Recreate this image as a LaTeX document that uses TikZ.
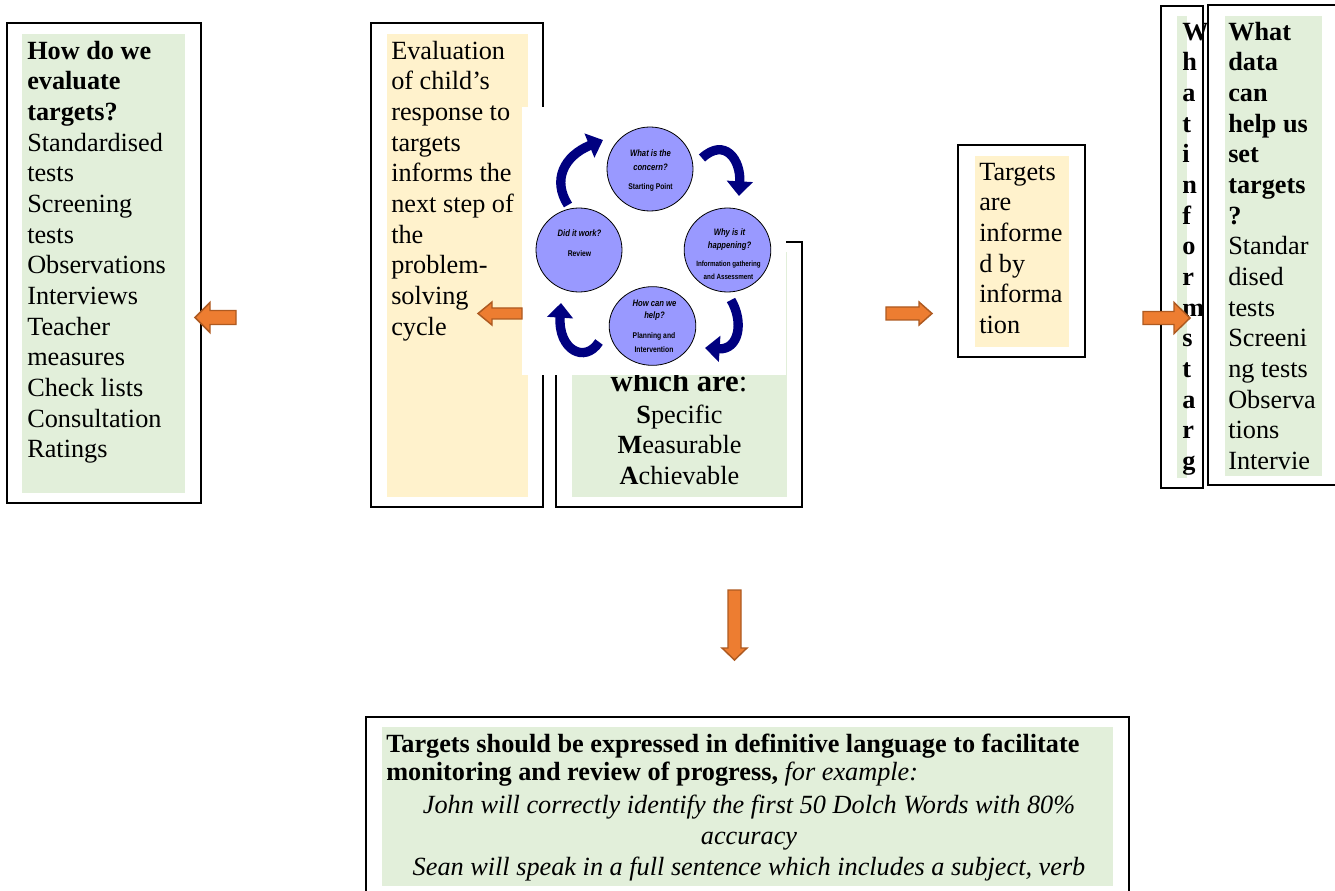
\documentclass[tikz,border=0pt]{standalone}
\usepackage{fontspec}
\setmainfont{Liberation Serif}
\newfontfamily\cycfont[FakeStretch=0.82]{Liberation Sans}
\usetikzlibrary{arrows.meta,shapes.geometric}
\definecolor{boxgreen}{HTML}{E2EFDA}
\definecolor{boxyellow}{HTML}{FFF2CC}
\definecolor{lav}{HTML}{9999FF}
\definecolor{navyc}{HTML}{000080}
\definecolor{orangef}{HTML}{ED7D31}
\definecolor{oranged}{HTML}{AE5A21}
\newcommand\st{\rule{0pt}{16pt}}
\begin{document}
\begin{tikzpicture}[x=0.75pt,y=-0.75pt,
  frame/.style={draw=black,line width=1.5pt},
  gfill/.style={fill=boxgreen},
  yfill/.style={fill=boxyellow},
  body/.style={inner sep=0pt,anchor=north west,align=left,font=\fontsize{19.7}{23}\selectfont},
  bodyc/.style={inner sep=0pt,anchor=north,align=center,font=\fontsize{19.7}{23}\selectfont},
  oarrow/.style={fill=orangef,draw=oranged,line width=1.1pt,line join=miter},
  cyc/.style={ellipse,draw=black,line width=0.6pt,fill=lav,inner sep=0pt},
  cq/.style={inner sep=0pt,anchor=base,font=\cycfont\bfseries\itshape\fontsize{7}{8}\selectfont},
  cs/.style={inner sep=0pt,anchor=base,font=\cycfont\bfseries\fontsize{6.2}{7}\selectfont},
  css/.style={inner sep=0pt,anchor=base,font=\cycfont\bfseries\fontsize{5.7}{7}\selectfont},
  cycarrow/.style={draw=navyc,line width=7pt,-{Triangle[length=11pt,width=19pt]}}
]
\useasboundingbox (0,0) rectangle (1335,891);
\clip (0,0) rectangle (1335,891);
\fill[white] (0,0) rectangle (1335,891);

% left box
\draw[frame] (7,23) rectangle (201,503);
\fill[gfill] (22,34) rectangle (185,493);
\node[body] (evalq) at (27,37.67) {\st\textbf{How do we}\\\textbf{evaluate}\\\textbf{targets?}\\Standardised\\tests\\Screening\\tests\\Observations\\Interviews\\Teacher\\measures\\Check lists\\Consultation\\Ratings};

% evaluation box
\draw[frame] (371,23) rectangle (543,507);
\fill[yfill] (387,34) rectangle (528,497);
\node[body] (evaltext) at (391,37.67) {\st Evaluation\\of child’s\\response to\\targets\\informs the\\next step of\\the\\problem-\\solving\\cycle};

% SMART box
\draw[frame] (556,242) rectangle (802,507);
\fill[gfill] (572,252) rectangle (787,497);
\node[inner sep=0pt,anchor=base,font=\fontsize{23}{26}\selectfont] (which) at (679,391) {\textbf{which are}:};
\node[bodyc] (smart) at (679.5,401.67) {\st\textbf{S}pecific\\\textbf{M}easurable\\\textbf{A}chievable};

% cycle graphic
\fill[white] (522,107) rectangle (786,375);
\node[cyc,minimum width=64.5pt,minimum height=63pt] (ctop) at (650,169) {};
\node[cyc,minimum width=64.5pt,minimum height=63pt] (cleft) at (579,250) {};
\node[cyc,minimum width=65pt,minimum height=63pt] (cright) at (727.5,250) {};
\node[cyc,minimum width=65pt,minimum height=59pt] (cbot) at (652.5,326) {};

\node[cq] (t1a) at (650.5,157) {What is the};
\node[cq] (t1b) at (650.5,171) {concern?};
\node[cs] (t1c) at (650.5,190) {Starting Point};
\node[cq] (t2a) at (579.5,237) {Did it work?};
\node[cs] (t2b) at (579.5,257) {Review};
\node[cq] (t3a) at (729.5,236) {Why is it};
\node[cq] (t3b) at (729.5,249) {happening?};
\node[css] (t3c) at (728.5,267) {Information gathering};
\node[css] (t3d) at (728.5,280) {and Assessment};
\node[cq] (t4a) at (654.5,306) {How can we};
\node[cq] (t4b) at (654.5,319) {help?};
\node[cs] (t4c) at (654,339) {Planning and};
\node[cs] (t4d) at (654,352) {Intervention};

\coordinate (a1s) at (568,205); \coordinate (a1e) at (603,140);
\coordinate (a2s) at (702,158); \coordinate (a2e) at (739,196);
\coordinate (a3s) at (731,300); \coordinate (a3e) at (705,348);
\coordinate (a4s) at (599,342); \coordinate (a4e) at (561,303);
\draw[cycarrow] (a1s) .. controls (552,180) and (564,156) .. (a1e);
\draw[cycarrow] (a2s) .. controls (725,137) and (741,160) .. (a2e);
\draw[cycarrow] (a3s) .. controls (744,322) and (739,350) .. (a3e);
\draw[cycarrow] (a4s) .. controls (585,364) and (558,350) .. (a4e);

% targets box
\draw[frame] (958,145) rectangle (1085,357);
\fill[yfill] (975,156) rectangle (1069,347);
\node[body] (targets) at (979,158.67) {\st Targets\\are\\informe\\d by\\informa\\tion};

% vertical box
\draw[frame] (1161,6) rectangle (1203,488);
\fill[gfill] (1177,16) rectangle (1187,478);
\node[body,font=\fontsize{19.7}{23}\selectfont\bfseries] (vert) at (1182,18.67) {\st W\\h\\a\\t\\i\\n\\f\\o\\r\\m\\s\\t\\a\\r\\g};

% right box
\draw[frame] (1208,5) rectangle (1345,485);
\fill[gfill] (1225,16) rectangle (1322,476);
\node[body] (dataq) at (1228,18.67) {\st\textbf{What}\\\textbf{data}\\\textbf{can}\\\textbf{help us}\\\textbf{set}\\\textbf{targets}\\\textbf{?}\\Standar\\dised\\tests\\Screeni\\ng tests\\Observa\\tions\\Intervie};

% bottom box
\draw[frame] (366,717) rectangle (1129,905);
\fill[gfill] (382,727) rectangle (1113,886);
\node[inner sep=0pt,anchor=base west,font=\fontsize{19.7}{23}\selectfont\bfseries] (b1) at (386,752) {Targets should be expressed in definitive language to facilitate};
\node[inner sep=0pt,anchor=base west,font=\fontsize{19.7}{23}\selectfont] (b2) at (386,780) {\textbf{monitoring and review of progress,} \textit{for example:}};
\node[bodyc,font=\fontsize{19.7}{23.25}\selectfont\itshape] (b3) at (749,791.67) {\st John will correctly identify the first 50 Dolch Words with 80\%\\accuracy\\Sean will speak in a full sentence which includes a subject, verb};

% orange block arrows
\draw[oarrow] (236,310.5) -- (210,310.5) -- (210,302.5) -- (195,317.5) -- (210,332.5) -- (210,324.5) -- (236,324.5) -- cycle;
\draw[oarrow] (522,308) -- (492,308) -- (492,302) -- (478,313.5) -- (492,325) -- (492,319) -- (522,319) -- cycle;
\draw[oarrow] (886,307) -- (919,307) -- (919,302) -- (932,313.5) -- (919,325) -- (919,320) -- (886,320) -- cycle;
\draw[oarrow] (1143,311.5) -- (1174,311.5) -- (1174,302.5) -- (1190,318) -- (1174,333.5) -- (1174,324.5) -- (1143,324.5) -- cycle;
\draw[oarrow] (728,590) -- (741,590) -- (741,648) -- (747,648) -- (734.5,660) -- (722,648) -- (728,648) -- cycle;
\end{tikzpicture}
\end{document}
